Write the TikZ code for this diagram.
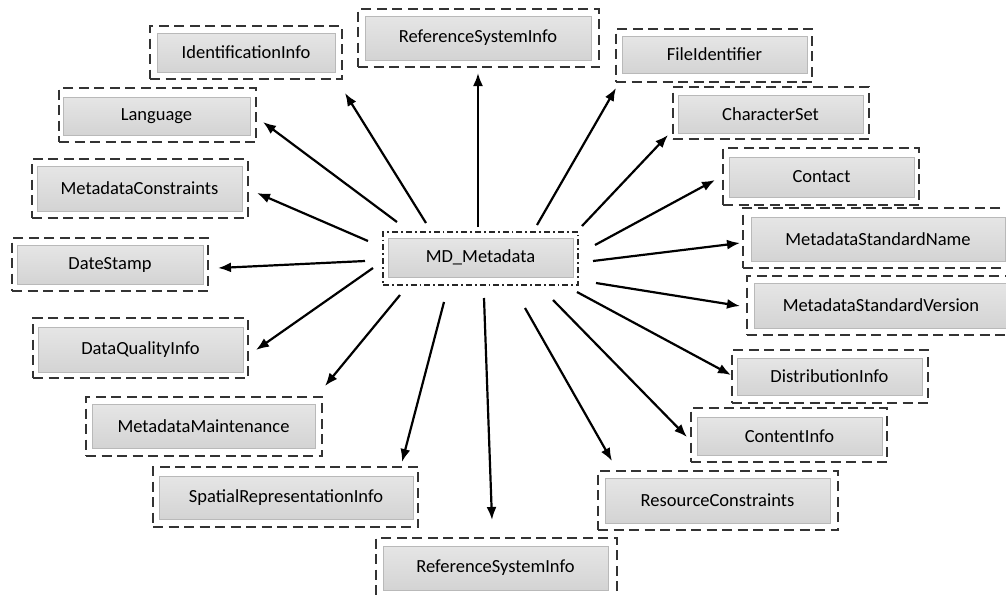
\documentclass[tikz,border=0pt]{standalone}
\usepackage{fontspec}
\setmainfont{Carlito}
\usetikzlibrary{arrows.meta}
\begin{document}
\begin{tikzpicture}[x=1pt,y=-1pt,
  outerbox/.style={draw=black!80, line width=1.8pt, dash pattern=on 10pt off 5.5pt, inner sep=0pt, rectangle},
  mdbox/.style={draw=black!85, line width=1.8pt, dash pattern=on 6pt off 3pt on 1.8pt off 3pt, inner sep=0pt, rectangle},
  innerbox/.style={draw=gray!55, line width=0.9pt, top color=gray!20, bottom color=gray!34, inner sep=0pt, rectangle,
    font=\fontsize{18.5}{21}\selectfont, text=black},
  arr/.style={-{Latex[length=13pt,width=10pt]}, line width=2.2pt, black}]
\useasboundingbox (0,0) rectangle (1006,595);

% outer dashed frames
\node[outerbox, minimum width=192pt, minimum height=53pt] (ident) at (246,52.5) {};
\node[outerbox, minimum width=241pt, minimum height=58pt] (rsTop) at (478.5,38) {};
\node[outerbox, minimum width=196pt, minimum height=53pt] (fileid) at (714,55.5) {};
\node[outerbox, minimum width=196pt, minimum height=52pt] (charset) at (771,113) {};
\node[outerbox, minimum width=196pt, minimum height=57pt] (contact) at (821,176.5) {};
\node[outerbox, minimum width=269pt, minimum height=60pt] (msn) at (877.5,238) {};
\node[outerbox, minimum width=267pt, minimum height=59pt] (msv) at (880.5,305.5) {};
\node[outerbox, minimum width=196pt, minimum height=53pt] (distr) at (830,376.5) {};
\node[outerbox, minimum width=196pt, minimum height=54pt] (content) at (789,435) {};
\node[outerbox, minimum width=240pt, minimum height=59pt] (rescons) at (718,500.5) {};
\node[outerbox, minimum width=241pt, minimum height=60pt] (rsBot) at (496.5,568) {};
\node[outerbox, minimum width=265pt, minimum height=60pt] (spatial) at (285.5,497) {};
\node[outerbox, minimum width=236pt, minimum height=59pt] (maint) at (204,426.5) {};
\node[outerbox, minimum width=215pt, minimum height=60pt] (dq) at (140.5,348) {};
\node[outerbox, minimum width=196pt, minimum height=53pt] (date) at (110,264.5) {};
\node[outerbox, minimum width=216pt, minimum height=59pt] (mcons) at (140,188.5) {};
\node[outerbox, minimum width=197pt, minimum height=54pt] (lang) at (157.5,115) {};
\node[mdbox, minimum width=195pt, minimum height=53pt] (md) at (480.5,258.5) {};

% inner grey boxes with labels
\node[innerbox, minimum width=178pt, minimum height=39pt] (ident-in) at (246,52.5) {IdentificationInfo};
\node[innerbox, minimum width=226pt, minimum height=44pt] (rsTop-in) at (478,38) {ReferenceSystemInfo};
\node[innerbox, minimum width=185pt, minimum height=37pt] (fileid-in) at (714.5,54.5) {FileIdentifier};
\node[innerbox, minimum width=185pt, minimum height=38pt] (charset-in) at (770.5,114) {CharacterSet};
\node[innerbox, minimum width=185pt, minimum height=40pt] (contact-in) at (821.5,177) {Contact};
\node[innerbox, minimum width=254pt, minimum height=44pt] (msn-in) at (878,239) {MetadataStandardName};
\node[innerbox, minimum width=254pt, minimum height=45pt] (msv-in) at (881,305.5) {MetadataStandardVersion};
\node[innerbox, minimum width=185pt, minimum height=37pt] (distr-in) at (829.5,376.5) {DistributionInfo};
\node[innerbox, minimum width=185pt, minimum height=38pt] (content-in) at (789.5,436) {ContentInfo};
\node[innerbox, minimum width=225pt, minimum height=45pt] (rescons-in) at (717.5,500.5) {ResourceConstraints};
\node[innerbox, minimum width=225pt, minimum height=44pt] (rsBot-in) at (495.5,568) {ReferenceSystemInfo};
\node[innerbox, minimum width=254pt, minimum height=43pt] (spatial-in) at (286,497.5) {SpatialRepresentationInfo};
\node[innerbox, minimum width=223pt, minimum height=44pt] (maint-in) at (203.5,426) {MetadataMaintenance};
\node[innerbox, minimum width=205pt, minimum height=45pt] (dq-in) at (140.5,349.5) {DataQualityInfo};
\node[innerbox, minimum width=186pt, minimum height=39pt] (date-in) at (110,264.5) {DateStamp};
\node[innerbox, minimum width=205pt, minimum height=45pt] (mcons-in) at (139.5,188.5) {MetadataConstraints};
\node[innerbox, minimum width=187pt, minimum height=38pt] (lang-in) at (156.5,116) {Language};
\node[innerbox, minimum width=185pt, minimum height=39pt] (md-in) at (480.5,257.5) {MD\_Metadata};

% connector start points (around MD_Metadata) and tips (at the targets)
\coordinate (s-ident) at (426,223);   \coordinate (e-ident) at (345,93);
\coordinate (s-rsTop) at (478,227);   \coordinate (e-rsTop) at (478,73);
\coordinate (s-fileid) at (537,225);  \coordinate (e-fileid) at (616,88);
\coordinate (s-charset) at (582,226); \coordinate (e-charset) at (668,135);
\coordinate (s-contact) at (595,245); \coordinate (e-contact) at (715,180);
\coordinate (s-msn) at (593,261);     \coordinate (e-msn) at (740,243);
\coordinate (s-msv) at (596,283);     \coordinate (e-msv) at (740,306);
\coordinate (s-distr) at (577,292);   \coordinate (e-distr) at (731,375);
\coordinate (s-content) at (553,300); \coordinate (e-content) at (687,437);
\coordinate (s-rescons) at (525,308); \coordinate (e-rescons) at (612,461);
\coordinate (s-rsBot) at (484,298);   \coordinate (e-rsBot) at (492,520);
\coordinate (s-spatial) at (444,302); \coordinate (e-spatial) at (402,462);
\coordinate (s-maint) at (400,295);   \coordinate (e-maint) at (325,386);
\coordinate (s-dq) at (373,268);      \coordinate (e-dq) at (256,350);
\coordinate (s-date) at (365,261);    \coordinate (e-date) at (218,268);
\coordinate (s-mcons) at (368,241);   \coordinate (e-mcons) at (257,193);
\coordinate (s-lang) at (397,222);    \coordinate (e-lang) at (263,122);

\foreach \n in {ident,rsTop,fileid,charset,contact,msn,msv,distr,content,rescons,rsBot,spatial,maint,dq,date,mcons,lang}
  \draw[arr] (s-\n) -- (e-\n);
\end{tikzpicture}
\end{document}
